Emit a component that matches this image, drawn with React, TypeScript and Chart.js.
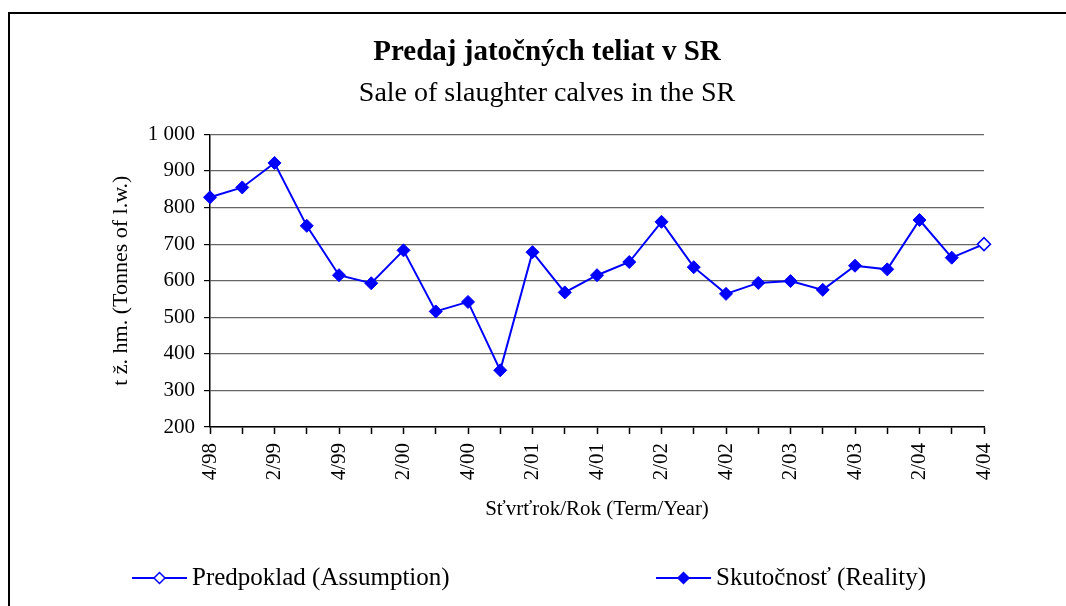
import React, { useEffect, useRef } from 'react';
import { Chart, registerables } from 'chart.js';

Chart.register(...registerables);

const quarters = [
  '4/98', '1/99', '2/99', '3/99', '4/99', '1/00', '2/00', '3/00', '4/00',
  '1/01', '2/01', '3/01', '4/01', '1/02', '2/02', '3/02', '4/02',
  '1/03', '2/03', '3/03', '4/03', '1/04', '2/04', '3/04', '4/04',
];

const reality: (number | null)[] = [
  828, 855, 922, 750, 615, 593, 683, 516, 542, 355, 678, 568, 615,
  651, 761, 637, 564, 594, 599, 575, 641, 631, 766, 663, null,
];

const assumption: (number | null)[] = [
  null, null, null, null, null, null, null, null, null, null, null, null, null,
  null, null, null, null, null, null, null, null, null, null, 663, 700,
];

const yMin = 200;
const yMax = 1000;
const yStep = 100;

const titleText = 'Predaj jatočných teliat v SR';
const subtitleText = 'Sale of slaughter calves in the SR';
const yTitle = 't ž. hm. (Tonnes of l.w.)';
const xTitle = 'Sťvrťrok/Rok (Term/Year)';
const assumptionLabel = 'Predpoklad (Assumption)';
const realityLabel = 'Skutočnosť (Reality)';

const SERIF = "'Liberation Serif', 'Times New Roman', serif";
const BLUE = '#0000FF';

function fmtThousands(v: number): string {
  return String(v).replace(/\B(?=(\d{3})+(?!\d))/g, ' ');
}

function diamond(ctx: CanvasRenderingContext2D, x: number, y: number, r: number, filled: boolean) {
  ctx.beginPath();
  ctx.moveTo(x, y - r);
  ctx.lineTo(x + r, y);
  ctx.lineTo(x, y + r);
  ctx.lineTo(x - r, y);
  ctx.closePath();
  ctx.fillStyle = filled ? BLUE : '#ffffff';
  ctx.fill();
  ctx.lineWidth = 1.5;
  ctx.strokeStyle = BLUE;
  ctx.stroke();
}

const framePlugin = {
  id: 'frame',
  beforeDraw(chart: any) {
    const ctx = chart.ctx as CanvasRenderingContext2D;
    ctx.save();
    ctx.fillStyle = '#ffffff';
    ctx.fillRect(0, 0, chart.width, chart.height);
    ctx.strokeStyle = '#000000';
    ctx.lineWidth = 2;
    ctx.beginPath();
    ctx.moveTo(9, chart.height + 5);
    ctx.lineTo(9, 13);
    ctx.lineTo(chart.width + 5, 13);
    ctx.stroke();
    ctx.restore();
  },
};

const legendPlugin = {
  id: 'customLegend',
  afterDraw(chart: any) {
    const ctx = chart.ctx as CanvasRenderingContext2D;
    const y = 578;
    const items = [
      { x0: 132, x1: 187, label: assumptionLabel, filled: false, tx: 192 },
      { x0: 656, x1: 711, label: realityLabel, filled: true, tx: 716 },
    ];
    ctx.save();
    for (const it of items) {
      ctx.strokeStyle = BLUE;
      ctx.lineWidth = 2;
      ctx.beginPath();
      ctx.moveTo(it.x0, y);
      ctx.lineTo(it.x1, y);
      ctx.stroke();
      diamond(ctx, (it.x0 + it.x1) / 2, y, 5.5, it.filled);
      ctx.fillStyle = '#000000';
      ctx.font = `25px ${SERIF}`;
      ctx.textBaseline = 'middle';
      ctx.textAlign = 'left';
      ctx.fillText(it.label, it.tx, y);
    }
    ctx.restore();
  },
};

export default function App() {
  const canvasRef = useRef<HTMLCanvasElement | null>(null);

  useEffect(() => {
    if (!canvasRef.current) return;
    const chart = new Chart(canvasRef.current, {
      type: 'line',
      data: {
        labels: quarters,
        datasets: [
          {
            label: realityLabel,
            data: reality,
            borderColor: BLUE,
            backgroundColor: BLUE,
            borderWidth: 2,
            pointStyle: 'rectRot',
            pointRadius: 6.5,
            pointBorderWidth: 1,
            pointBackgroundColor: BLUE,
            pointBorderColor: BLUE,
            tension: 0,
            spanGaps: false,
          },
          {
            label: assumptionLabel,
            data: assumption,
            borderColor: BLUE,
            backgroundColor: '#ffffff',
            borderWidth: 2,
            pointStyle: 'rectRot',
            pointRadius: (c: any) => (c.dataIndex === quarters.length - 1 ? 6.5 : 0),
            pointBorderWidth: 1.5,
            pointBackgroundColor: '#ffffff',
            pointBorderColor: BLUE,
            tension: 0,
          },
        ],
      },
      options: {
        animation: false,
        responsive: false,
        devicePixelRatio: 1,
        layout: { padding: { left: 110, right: 82, top: 35, bottom: 84 } },
        plugins: {
          legend: { display: false },
          tooltip: { enabled: false },
          title: {
            display: true,
            text: titleText,
            color: '#000000',
            font: { family: SERIF, size: 29, weight: 'bold', lineHeight: 1.2 },
            padding: { top: 0, bottom: 7 },
          },
          subtitle: {
            display: true,
            text: subtitleText,
            color: '#000000',
            font: { family: SERIF, size: 28, weight: 'normal', lineHeight: 1.2 },
            padding: { top: 0, bottom: 24 },
          },
        },
        scales: {
          x: {
            type: 'category',
            offset: false,
            afterFit: (s: any) => { s.height = 95; },
            border: { display: true, color: '#000000', width: 1.5 },
            grid: {
              display: true,
              drawOnChartArea: false,
              drawTicks: true,
              tickLength: 7,
              tickColor: '#000000',
              tickWidth: 1.5,
            },
            ticks: {
              autoSkip: false,
              minRotation: 90,
              maxRotation: 90,
              padding: 9,
              color: '#000000',
              font: { family: SERIF, size: 21 },
              callback: (_v: any, i: number) => (i % 2 === 0 ? quarters[i] : ''),
            },
            title: {
              display: true,
              text: xTitle,
              color: '#000000',
              font: { family: SERIF, size: 21, lineHeight: 1.2 },
              padding: { top: 0, bottom: 0 },
            },
          },
          y: {
            min: yMin,
            max: yMax,
            afterFit: (s: any) => { s.width = 100; },
            border: { display: true, color: '#000000', width: 1.5 },
            grid: {
              color: '#666666',
              lineWidth: 1.2,
              drawTicks: true,
              tickLength: 6,
              tickColor: '#000000',
            },
            ticks: {
              stepSize: yStep,
              padding: 9,
              color: '#000000',
              font: { family: SERIF, size: 21 },
              callback: (v: any) => fmtThousands(Number(v)),
            },
            title: {
              display: true,
              text: yTitle,
              color: '#000000',
              font: { family: SERIF, size: 22, lineHeight: 1.0 },
              padding: { top: 0, bottom: 0 },
            },
          },
        },
      },
      plugins: [framePlugin, legendPlugin],
    } as any);
    return () => chart.destroy();
  }, []);

  return (
    <div style={{ position: 'absolute', left: 0, top: 0, width: 1066, height: 606, background: '#fff' }}>
      <canvas ref={canvasRef} width={1066} height={606} />
    </div>
  );
}
